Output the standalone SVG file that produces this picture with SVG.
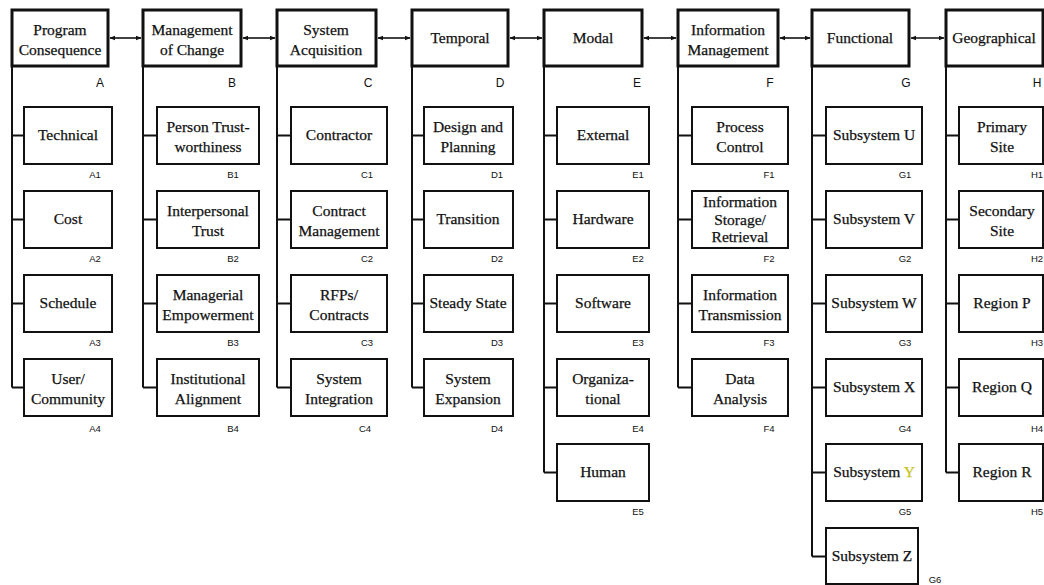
<svg xmlns="http://www.w3.org/2000/svg" width="1044" height="585" viewBox="0 0 1044 585">
<style>
.top{fill:#fff;stroke:#111;stroke-width:3}
.box{fill:#fff;stroke:#111;stroke-width:2}
.ln{fill:none;stroke:#111;stroke-width:2}
.ar{fill:none;stroke:#111;stroke-width:1.6}
.t{font-family:"Liberation Serif","Times New Roman",serif;font-size:15.5px;fill:#111;stroke:#111;stroke-width:0.25;text-anchor:middle}
.L{font-family:"Liberation Sans",Arial,sans-serif;font-size:12px;fill:#111;text-anchor:middle}
.s{font-family:"Liberation Sans",Arial,sans-serif;font-size:9.5px;fill:#111;text-anchor:middle}
</style>
<defs>
<marker id="ah" viewBox="0 0 10 10" refX="9" refY="5" markerWidth="6" markerHeight="6" orient="auto-start-reverse" markerUnits="userSpaceOnUse">
<path d="M0,1 L10,5 L0,9 Z" fill="#111"/>
</marker>
</defs>
<rect width="1044" height="585" fill="#fff"/>
<g id="connectors">
<line class="ar" x1="110" y1="38" x2="141" y2="38" marker-start="url(#ah)" marker-end="url(#ah)"/>
<line class="ar" x1="243" y1="38" x2="275" y2="38" marker-start="url(#ah)" marker-end="url(#ah)"/>
<line class="ar" x1="378" y1="38" x2="410" y2="38" marker-start="url(#ah)" marker-end="url(#ah)"/>
<line class="ar" x1="510" y1="38" x2="542" y2="38" marker-start="url(#ah)" marker-end="url(#ah)"/>
<line class="ar" x1="644" y1="38" x2="676" y2="38" marker-start="url(#ah)" marker-end="url(#ah)"/>
<line class="ar" x1="780" y1="38" x2="810" y2="38" marker-start="url(#ah)" marker-end="url(#ah)"/>
<line class="ar" x1="911" y1="38" x2="944" y2="38" marker-start="url(#ah)" marker-end="url(#ah)"/>
<path class="ln" d="M12,66 V387.5 M12,135.5 H24 M12,219.5 H24 M12,303.5 H24 M12,387.5 H24"/>
<path class="ln" d="M143,66 V387.5 M143,135.5 H157 M143,219.5 H157 M143,303.5 H157 M143,387.5 H157"/>
<path class="ln" d="M277,66 V387.5 M277,135.5 H291 M277,219.5 H291 M277,303.5 H291 M277,387.5 H291"/>
<path class="ln" d="M412,66 V387.5 M412,135.5 H424 M412,219.5 H424 M412,303.5 H424 M412,387.5 H424"/>
<path class="ln" d="M544,66 V472.5 M544,135.5 H557 M544,219.5 H557 M544,303.5 H557 M544,387.5 H557 M544,472.5 H557"/>
<path class="ln" d="M678,66 V387.5 M678,135.5 H692 M678,219.5 H692 M678,303.5 H692 M678,387.5 H692"/>
<path class="ln" d="M812,66 V556.5 M812,135.5 H826 M812,219.5 H826 M812,303.5 H826 M812,387.5 H826 M812,472.5 H826 M812,556.5 H826"/>
<path class="ln" d="M946,66 V472.5 M946,135.5 H959 M946,219.5 H959 M946,303.5 H959 M946,387.5 H959 M946,472.5 H959"/>
</g>
<g id="A">
<rect class="top" x="12" y="10" width="96" height="56"/>
<text class="t" x="60" y="35">Program</text><text class="t" x="60" y="55">Consequence</text>
<text class="L" x="100" y="87">A</text>
</g>
<g id="A1"><rect class="box" x="24" y="107" width="88" height="57"/><text class="t" x="68" y="140">Technical</text><text class="s" x="95" y="178">A1</text></g>
<g id="A2"><rect class="box" x="24" y="191" width="88" height="57"/><text class="t" x="68" y="224">Cost</text><text class="s" x="95" y="262">A2</text></g>
<g id="A3"><rect class="box" x="24" y="275" width="88" height="57"/><text class="t" x="68" y="308">Schedule</text><text class="s" x="95" y="346">A3</text></g>
<g id="A4"><rect class="box" x="24" y="359" width="88" height="57"/><text class="t" x="68" y="384">User/</text><text class="t" x="68" y="404">Community</text><text class="s" x="95" y="432">A4</text></g>
<g id="B">
<rect class="top" x="143" y="10" width="98" height="56"/>
<text class="t" x="192" y="35">Management</text><text class="t" x="192" y="55">of Change</text>
<text class="L" x="232" y="87">B</text>
</g>
<g id="B1"><rect class="box" x="157" y="107" width="102" height="57"/><text class="t" x="208" y="132">Person Trust-</text><text class="t" x="208" y="152">worthiness</text><text class="s" x="233" y="178">B1</text></g>
<g id="B2"><rect class="box" x="157" y="191" width="102" height="57"/><text class="t" x="208" y="216">Interpersonal</text><text class="t" x="208" y="236">Trust</text><text class="s" x="233" y="262">B2</text></g>
<g id="B3"><rect class="box" x="157" y="275" width="102" height="57"/><text class="t" x="208" y="300">Managerial</text><text class="t" x="208" y="320">Empowerment</text><text class="s" x="233" y="346">B3</text></g>
<g id="B4"><rect class="box" x="157" y="359" width="102" height="57"/><text class="t" x="208" y="384">Institutional</text><text class="t" x="208" y="404">Alignment</text><text class="s" x="233" y="432">B4</text></g>
<g id="C">
<rect class="top" x="277" y="10" width="99" height="56"/>
<text class="t" x="326" y="35">System</text><text class="t" x="326" y="55">Acquisition</text>
<text class="L" x="368" y="87">C</text>
</g>
<g id="C1"><rect class="box" x="291" y="107" width="96" height="57"/><text class="t" x="339" y="140">Contractor</text><text class="s" x="367" y="178">C1</text></g>
<g id="C2"><rect class="box" x="291" y="191" width="96" height="57"/><text class="t" x="339" y="216">Contract</text><text class="t" x="339" y="236">Management</text><text class="s" x="367" y="262">C2</text></g>
<g id="C3"><rect class="box" x="291" y="275" width="96" height="57"/><text class="t" x="339" y="300">RFPs/</text><text class="t" x="339" y="320">Contracts</text><text class="s" x="367" y="346">C3</text></g>
<g id="C4"><rect class="box" x="291" y="359" width="96" height="57"/><text class="t" x="339" y="384">System</text><text class="t" x="339" y="404">Integration</text><text class="s" x="365" y="432">C4</text></g>
<g id="D">
<rect class="top" x="412" y="10" width="96" height="56"/>
<text class="t" x="460" y="43">Temporal</text>
<text class="L" x="500" y="87">D</text>
</g>
<g id="D1"><rect class="box" x="424" y="107" width="89" height="57"/><text class="t" x="468" y="132">Design and</text><text class="t" x="468" y="152">Planning</text><text class="s" x="497" y="178">D1</text></g>
<g id="D2"><rect class="box" x="424" y="191" width="89" height="57"/><text class="t" x="468" y="224">Transition</text><text class="s" x="497" y="262">D2</text></g>
<g id="D3"><rect class="box" x="424" y="275" width="89" height="57"/><text class="t" x="468" y="308">Steady State</text><text class="s" x="497" y="346">D3</text></g>
<g id="D4"><rect class="box" x="424" y="359" width="89" height="57"/><text class="t" x="468" y="384">System</text><text class="t" x="468" y="404">Expansion</text><text class="s" x="497" y="432">D4</text></g>
<g id="E">
<rect class="top" x="544" y="10" width="98" height="56"/>
<text class="t" x="593" y="43">Modal</text>
<text class="L" x="637" y="87">E</text>
</g>
<g id="E1"><rect class="box" x="557" y="107" width="92" height="57"/><text class="t" x="603" y="140">External</text><text class="s" x="638" y="178">E1</text></g>
<g id="E2"><rect class="box" x="557" y="191" width="92" height="57"/><text class="t" x="603" y="224">Hardware</text><text class="s" x="638" y="262">E2</text></g>
<g id="E3"><rect class="box" x="557" y="275" width="92" height="57"/><text class="t" x="603" y="308">Software</text><text class="s" x="638" y="346">E3</text></g>
<g id="E4"><rect class="box" x="557" y="359" width="92" height="57"/><text class="t" x="603" y="384">Organiza-</text><text class="t" x="603" y="404">tional</text><text class="s" x="638" y="432">E4</text></g>
<g id="E5"><rect class="box" x="557" y="444" width="92" height="57"/><text class="t" x="603" y="477">Human</text><text class="s" x="638" y="515">E5</text></g>
<g id="F">
<rect class="top" x="678" y="10" width="100" height="56"/>
<text class="t" x="728" y="35">Information</text><text class="t" x="728" y="55">Management</text>
<text class="L" x="770" y="87">F</text>
</g>
<g id="F1"><rect class="box" x="692" y="107" width="96" height="57"/><text class="t" x="740" y="132">Process</text><text class="t" x="740" y="152">Control</text><text class="s" x="769" y="178">F1</text></g>
<g id="F2"><rect class="box" x="692" y="191" width="96" height="57"/><text class="t" x="740" y="207">Information</text><text class="t" x="740" y="224.5">Storage/</text><text class="t" x="740" y="242">Retrieval</text><text class="s" x="769" y="262">F2</text></g>
<g id="F3"><rect class="box" x="692" y="275" width="96" height="57"/><text class="t" x="740" y="300">Information</text><text class="t" x="740" y="320">Transmission</text><text class="s" x="769" y="346">F3</text></g>
<g id="F4"><rect class="box" x="692" y="359" width="96" height="57"/><text class="t" x="740" y="384">Data</text><text class="t" x="740" y="404">Analysis</text><text class="s" x="769" y="432">F4</text></g>
<g id="G">
<rect class="top" x="812" y="10" width="97" height="56"/>
<text class="t" x="860" y="43">Functional</text>
<text class="L" x="906" y="87">G</text>
</g>
<g id="G1"><rect class="box" x="826" y="107" width="96" height="57"/><text class="t" x="874" y="140">Subsystem U</text><text class="s" x="905" y="178">G1</text></g>
<g id="G2"><rect class="box" x="826" y="191" width="96" height="57"/><text class="t" x="874" y="224">Subsystem V</text><text class="s" x="905" y="262">G2</text></g>
<g id="G3"><rect class="box" x="826" y="275" width="96" height="57"/><text class="t" x="874" y="308">Subsystem W</text><text class="s" x="905" y="346">G3</text></g>
<g id="G4"><rect class="box" x="826" y="359" width="96" height="57"/><text class="t" x="874" y="392">Subsystem X</text><text class="s" x="905" y="432">G4</text></g>
<g id="G5"><rect class="box" x="826" y="444" width="96" height="57"/><text class="t" x="874" y="477">Subsystem <tspan fill="#c8c21c" stroke="#c8c21c">Y</tspan></text><text class="s" x="905" y="515">G5</text></g>
<g id="G6"><rect class="box" x="826" y="528" width="92" height="56"/><text class="t" x="872" y="561">Subsystem Z</text><text class="s" x="935" y="583">G6</text></g>
<g id="H">
<rect class="top" x="946" y="10" width="97" height="56"/>
<text class="t" x="994" y="43">Geographical</text>
<text class="L" x="1037" y="87">H</text>
</g>
<g id="H1"><rect class="box" x="959" y="107" width="84" height="57"/><text class="t" x="1002" y="132">Primary</text><text class="t" x="1002" y="152">Site</text><text class="s" x="1037" y="178">H1</text></g>
<g id="H2"><rect class="box" x="959" y="191" width="84" height="57"/><text class="t" x="1002" y="216">Secondary</text><text class="t" x="1002" y="236">Site</text><text class="s" x="1037" y="262">H2</text></g>
<g id="H3"><rect class="box" x="959" y="275" width="84" height="57"/><text class="t" x="1002" y="308">Region P</text><text class="s" x="1037" y="346">H3</text></g>
<g id="H4"><rect class="box" x="959" y="359" width="84" height="57"/><text class="t" x="1002" y="392">Region Q</text><text class="s" x="1037" y="432">H4</text></g>
<g id="H5"><rect class="box" x="959" y="444" width="84" height="57"/><text class="t" x="1002" y="477">Region R</text><text class="s" x="1037" y="515">H5</text></g>
</svg>
